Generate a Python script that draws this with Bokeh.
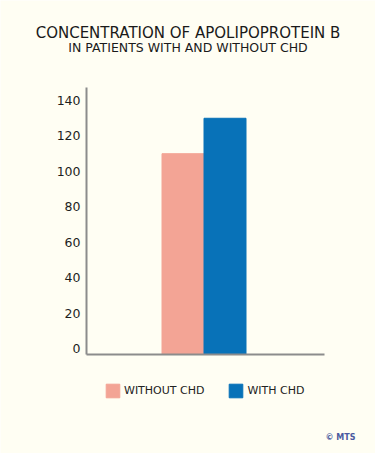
from bokeh.plotting import figure
from bokeh.models import (Range1d, FixedTicker, Legend, LegendItem, Label,
                          LinearAxis, ColumnDataSource)
from bokeh.embed import file_html
from bokeh.resources import INLINE

# ---- data ----
groups = ["WITHOUT CHD", "WITH CHD"]
apob = [110, 130]
colors = ["#F3A495", "#0872B8"]
y_ticks = [0, 20, 40, 60, 80, 100, 120, 140]
title_text = "CONCENTRATION OF APOLIPOPROTEIN B"
subtitle_text = "IN PATIENTS WITH AND WITHOUT CHD"
credit_text = "© MTS"

BG = "#FFFEF3"
FONT = "DejaVu Sans"
W, H = 375, 453

# ---- layout geometry (pixels) ----
X0_PX = 182.5      # pixel centre of first bar
X_UNIT = 42.0      # pixels per category step
Y0_PX = 348.0      # pixel of value 0
Y_UNIT = 1.771     # pixels per unit of value
AX_LEFT_PX, AX_RIGHT_PX = 86, 324
AX_TOP_PX, AX_BASE_PX = 87, 354


def xd(px):
    return (px - X0_PX) / X_UNIT


def yd(py):
    return (Y0_PX - py) / Y_UNIT


y_base = yd(AX_BASE_PX)

p = figure(width=W, height=H, output_backend="svg", toolbar_location=None,
           x_range=Range1d(xd(0), xd(W)), y_range=Range1d(yd(H), yd(0)),
           min_border=0, x_axis_type=None, y_axis_type=None)
p.background_fill_color = BG
p.border_fill_color = BG
p.outline_line_color = None
p.grid.visible = False

src = ColumnDataSource(dict(x=list(range(len(groups))), top=apob,
                            bottom=[y_base] * len(groups), color=colors))
r = p.vbar(x="x", top="top", bottom="bottom", width=1.0, color="color",
           source=src)

yax = LinearAxis(fixed_location=xd(AX_LEFT_PX), bounds=(y_base, yd(AX_TOP_PX)),
                 ticker=FixedTicker(ticks=y_ticks))
yax.axis_line_color = "#8c8c8c"
yax.axis_line_width = 2
yax.major_tick_line_color = None
yax.major_tick_out = 0
yax.minor_tick_line_color = None
yax.major_label_text_font = FONT
yax.major_label_text_font_size = "12.5px"
yax.major_label_text_color = "#1e1e1e"
yax.major_label_standoff = 6
p.add_layout(yax, "left")

xax = LinearAxis(fixed_location=y_base, bounds=(xd(AX_LEFT_PX), xd(AX_RIGHT_PX)),
                 ticker=FixedTicker(ticks=[]))
xax.axis_line_color = "#8c8c8c"
xax.axis_line_width = 2
xax.major_tick_line_color = None
xax.major_tick_out = 0
xax.minor_tick_line_color = None
p.add_layout(xax, "below")

# ---- titles ----
p.add_layout(Label(x=W / 2, y=H - 32, x_units="screen", y_units="screen",
                   text=title_text, text_font=FONT, text_font_size="15px",
                   text_color="#1a1a1a", text_align="center",
                   text_baseline="middle"))
p.add_layout(Label(x=W / 2, y=H - 46.5, x_units="screen", y_units="screen",
                   text=subtitle_text, text_font=FONT, text_font_size="12.5px",
                   text_color="#1a1a1a", text_align="center",
                   text_baseline="middle"))

# ---- legend & credit ----
items = [LegendItem(label=g, renderers=[r], index=i) for i, g in enumerate(groups)]
legend = Legend(items=items, orientation="horizontal", location=(104, H - 399),
                glyph_width=17, glyph_height=17, label_standoff=3, spacing=23,
                padding=0, margin=0, border_line_color=None,
                background_fill_alpha=0, label_text_font=FONT,
                label_text_font_size="11px", label_text_color="#222222",
                label_height=17)
p.add_layout(legend, "center")

p.add_layout(Label(x=355, y=H - 437, x_units="screen", y_units="screen",
                   text=credit_text, text_font=FONT, text_font_size="8px",
                   text_font_style="bold", text_color="#4a5aa0",
                   text_align="right", text_baseline="middle"))

open("out.html", "w").write(file_html(p, INLINE))
